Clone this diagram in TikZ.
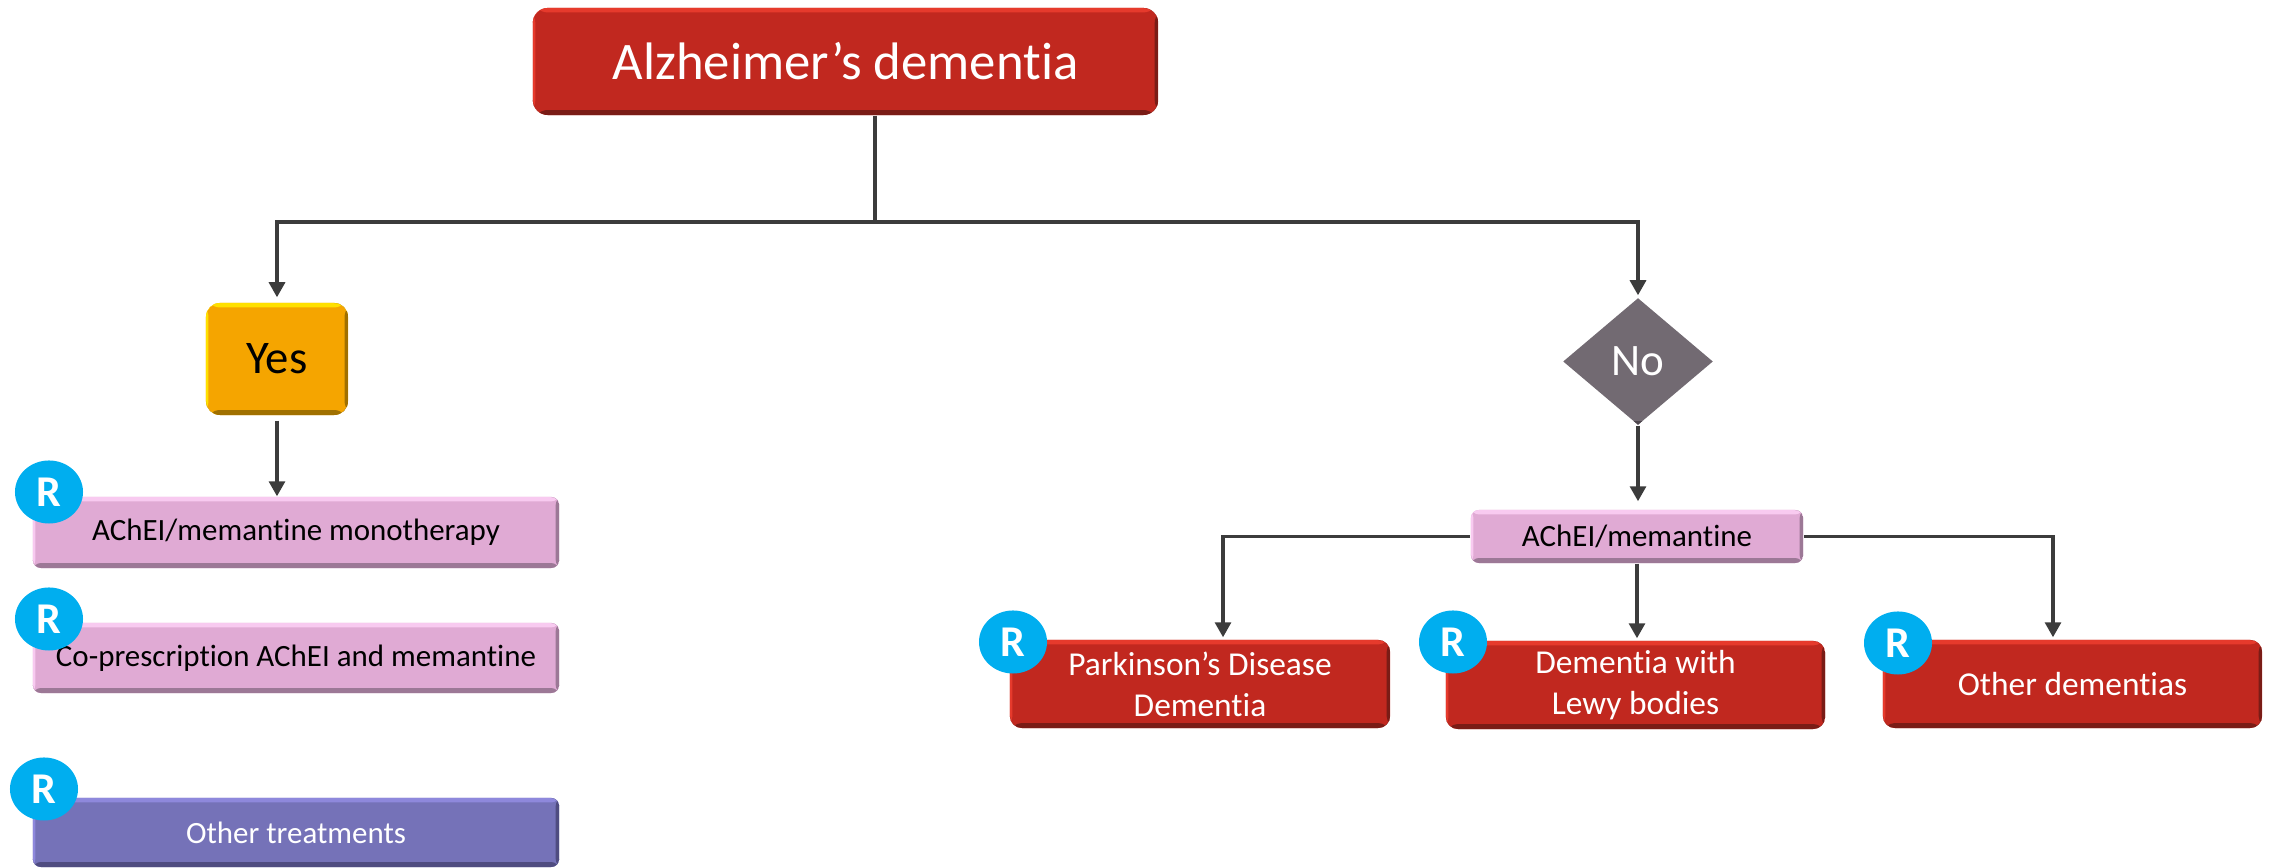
\documentclass[tikz,border=0pt]{standalone}
\usepackage{fontspec}
\setmainfont[Ligatures={NoCommon}]{Carlito}
\usetikzlibrary{arrows.meta,shapes.geometric}
\definecolor{redmain}{HTML}{C1281F}
\definecolor{redlight}{HTML}{E63A2C}
\definecolor{reddark}{HTML}{7A1C16}
\definecolor{pinkmain}{HTML}{E0AAD4}
\definecolor{pinklight}{HTML}{F8CAF0}
\definecolor{pinkdark}{HTML}{9C7896}
\definecolor{purpmain}{HTML}{7572B8}
\definecolor{purplight}{HTML}{8E88DC}
\definecolor{purpdark}{HTML}{4F4C80}
\definecolor{orgmain}{HTML}{F5A500}
\definecolor{orglight}{HTML}{FFE000}
\definecolor{orgdark}{HTML}{A07000}
\definecolor{graymain}{HTML}{726A72}
\definecolor{graydark}{HTML}{4E474E}
\definecolor{rcyan}{HTML}{00AEEF}
\definecolor{linecol}{HTML}{3C3C3C}
\tikzset{
  bevel/.style n args={3}{rectangle, inner sep=0pt, align=center, fill=#2,
    path picture={
      \fill[#1] (path picture bounding box.north west) rectangle ([yshift=-0.045cm]path picture bounding box.north east);
      \fill[#1] (path picture bounding box.north west) rectangle ([xshift=0.025cm]path picture bounding box.south west);
      \fill[#3] ([yshift=0.05cm]path picture bounding box.south west) rectangle (path picture bounding box.south east);
      \fill[#3] ([xshift=-0.035cm]path picture bounding box.north east) rectangle (path picture bounding box.south east);
    }},
  redbox/.style={bevel={redlight}{redmain}{reddark}, rounded corners=0.12cm, text=white,
    minimum width=3.79cm, minimum height=0.88cm, font=\fontsize{9.5}{11.7}\selectfont},
  pinkbox/.style={bevel={pinklight}{pinkmain}{pinkdark}, rounded corners=0.08cm, text=black,
    font=\fontsize{8.8}{10.5}\selectfont},
  purpbox/.style={bevel={purplight}{purpmain}{purpdark}, rounded corners=0.08cm, text=white,
    font=\fontsize{8.8}{10.5}\selectfont},
  rmark/.style={ellipse, fill=rcyan, text=white, inner sep=0pt, minimum width=0.68cm,
    minimum height=0.63cm, font=\fontsize{12.5}{14}\selectfont\bfseries},
  arr/.style={draw=linecol, line width=0.9pt, -{Triangle[length=0.15cm,width=0.16cm]}},
  plain/.style={draw=linecol, line width=0.9pt}
}
\begin{document}
\begin{tikzpicture}[x=0.01cm,y=-0.01cm]
\useasboundingbox (0,0) rectangle (2269,868);

% top
\node[bevel={redlight}{redmain}{reddark}, rounded corners=0.15cm, text=white,
  minimum width=6.25cm, minimum height=1.07cm, font=\fontsize{15}{17}\selectfont]
  (alz) at (845.5,61.5) {Alzheimer’s dementia};
\coordinate (j) at (875,222);

% left branch
\node[bevel={orglight}{orgmain}{orgdark}, rounded corners=0.14cm, text=black,
  minimum width=1.42cm, minimum height=1.12cm, font=\fontsize{13.3}{15}\selectfont]
  (yes) at (277,359) {Yes};
\node[pinkbox, minimum width=5.26cm, minimum height=0.71cm] (mono) at (296,532.5) {AChEI/memantine monotherapy};
\node[pinkbox, minimum width=5.26cm, minimum height=0.70cm] (copre) at (296,658) {Co-prescription AChEI and memantine};
\node[purpbox, minimum width=5.26cm, minimum height=0.69cm] (othtr) at (296,832.5) {Other treatments};

% right branch
\node[diamond, fill=graymain, inner sep=0pt, minimum width=1.50cm, minimum height=1.27cm,
  text=white, font=\fontsize{12.8}{15}\selectfont,
  path picture={\fill[graydark] ([yshift=0.04cm]path picture bounding box.south west) rectangle (path picture bounding box.south east);}]
  (no) at (1638,361.5) {No};
\node[pinkbox, minimum width=3.32cm, minimum height=0.53cm] (acm) at (1637,536.5) {AChEI/memantine};
\node[redbox, minimum width=3.80cm] (pdd) at (1200,684) {Parkinson’s Disease\\Dementia};
\node[redbox] (dlb) at (1635.5,685) {Dementia with\\Lewy bodies};
\node[redbox] (oth) at (2072.5,684) {Other dementias};

% R marks
\node[rmark] (r1) at (49,492) {R};
\node[rmark] (r2) at (49,619) {R};
\node[rmark] (r3) at (44,789) {R};
\node[rmark] (r4) at (1013,642) {R};
\node[rmark] (r5) at (1453,642) {R};
\node[rmark] (r6) at (1898,643) {R};

% connectors
\draw[plain] (alz.south -| j) -- (j);
\draw[arr, shorten >=0.05cm] (j) -| (yes.north);
\draw[arr, shorten >=0.02cm] (j) -| (no.north);
\draw[arr, shorten <=0.05cm] (yes.south) -- (yes.south |- mono.north);
\draw[arr, shorten >=0.08cm] (no.south) -- (no.south |- acm.north);
\draw[arr, shorten >=0.02cm] (acm.west) -| ([xshift=0.23cm]pdd.north);
\draw[arr, shorten >=0.02cm] (acm.south) -- (acm.south |- dlb.north);
\draw[arr, shorten >=0.02cm] (acm.east) -| ([xshift=-0.195cm]oth.north);
\end{tikzpicture}
\end{document}
